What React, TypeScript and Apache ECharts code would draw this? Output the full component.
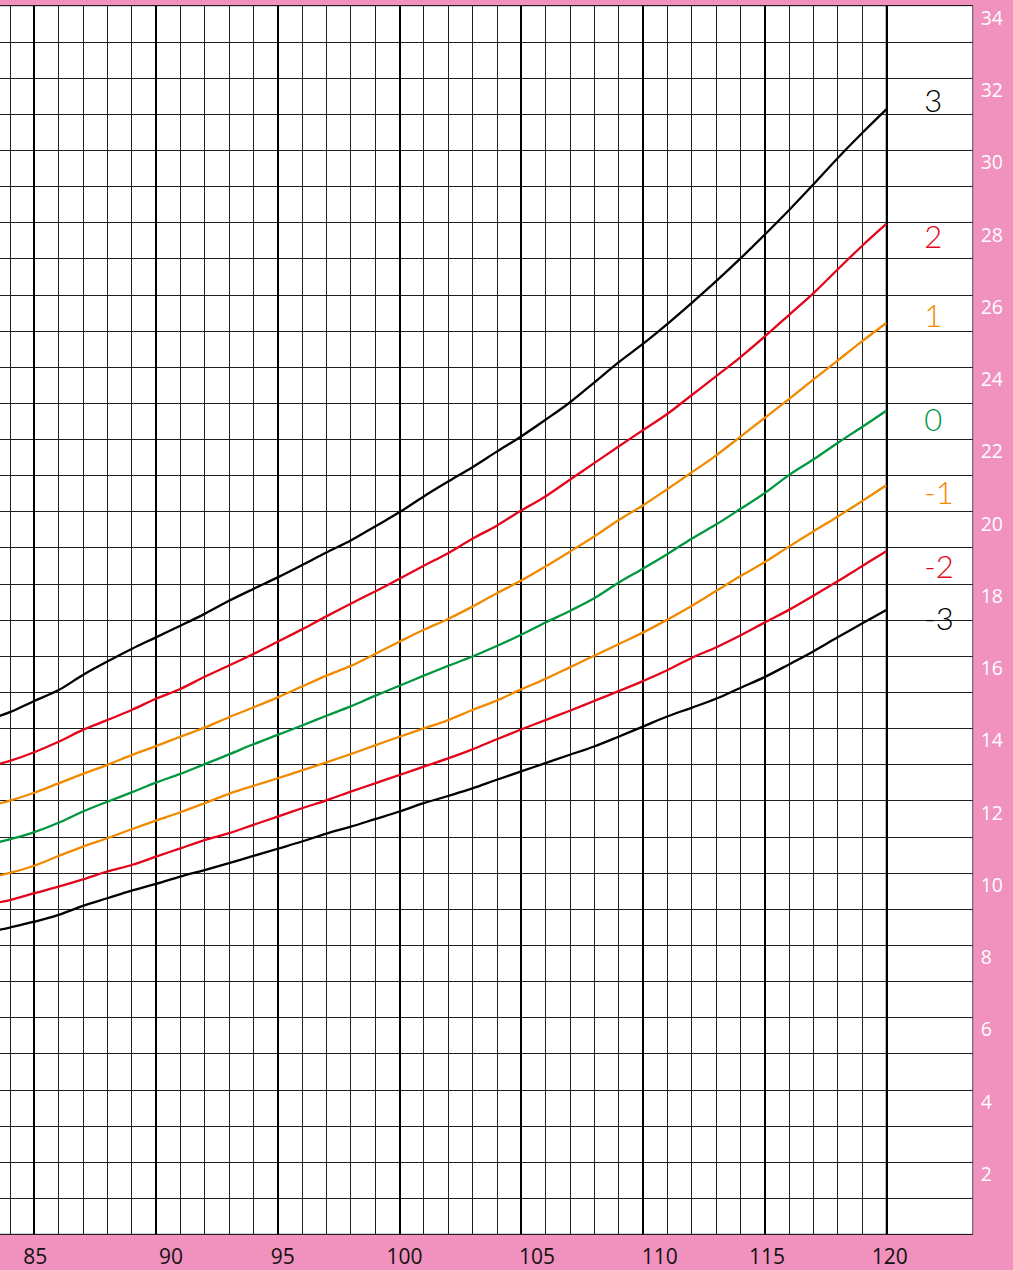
import { useEffect, useRef } from "react";
import * as echarts from "echarts";

// Height (cm)
const heights = [
  83.5, 84, 85, 86, 87, 88, 89, 90, 91, 92, 93, 94, 95, 96, 97, 98, 99, 100, 101,
  102, 103, 104, 105, 106, 107, 108, 109, 110, 111, 112, 113, 114, 115, 116, 117,
  118, 119, 120,
];

// Weight (kg) per z-score curve
const sdPlus3 = [
  14.33, 14.45, 14.76, 15.06, 15.48, 15.85, 16.2, 16.52, 16.84, 17.17, 17.53, 17.86,
  18.18, 18.52, 18.87, 19.2, 19.59, 19.98, 20.42, 20.83, 21.23, 21.66, 22.08, 22.54,
  23.02, 23.57, 24.13, 24.64, 25.19, 25.77, 26.37, 27.0, 27.66, 28.34, 29.05, 29.78,
  30.47, 31.13,
];
const sdPlus2 = [
  13.01, 13.1, 13.34, 13.63, 13.96, 14.23, 14.51, 14.82, 15.09, 15.43, 15.74, 16.06,
  16.4, 16.74, 17.1, 17.45, 17.79, 18.14, 18.5, 18.85, 19.25, 19.61, 20.03, 20.42,
  20.88, 21.34, 21.8, 22.25, 22.7, 23.22, 23.74, 24.27, 24.84, 25.44, 26.04, 26.7,
  27.35, 27.96,
];
const sdPlus1 = [
  11.91, 12.0, 12.22, 12.48, 12.74, 12.99, 13.26, 13.51, 13.77, 14.02, 14.31, 14.58,
  14.86, 15.16, 15.46, 15.73, 16.06, 16.4, 16.73, 17.03, 17.37, 17.74, 18.09, 18.48,
  18.89, 19.31, 19.76, 20.17, 20.62, 21.08, 21.55, 22.07, 22.59, 23.11, 23.65, 24.18,
  24.71, 25.22,
];
const sdMedian = [
  10.85, 10.93, 11.13, 11.39, 11.7, 11.97, 12.23, 12.5, 12.74, 13.01, 13.28, 13.56,
  13.82, 14.08, 14.35, 14.61, 14.9, 15.18, 15.46, 15.73, 15.99, 16.28, 16.59, 16.93,
  17.25, 17.6, 18.03, 18.42, 18.82, 19.25, 19.64, 20.07, 20.51, 21.01, 21.44, 21.9,
  22.34, 22.79,
];
const sdMinus1 = [
  9.92, 10.0, 10.2, 10.47, 10.73, 10.96, 11.21, 11.45, 11.68, 11.93, 12.19, 12.41,
  12.62, 12.84, 13.06, 13.29, 13.53, 13.77, 14.0, 14.23, 14.51, 14.77, 15.08, 15.37,
  15.69, 16.01, 16.33, 16.65, 17.01, 17.39, 17.8, 18.21, 18.6, 19.03, 19.45, 19.86,
  20.29, 20.73,
];
const sdMinus2 = [
  9.18, 9.25, 9.44, 9.62, 9.82, 10.04, 10.22, 10.45, 10.68, 10.91, 11.1, 11.33,
  11.56, 11.79, 12.01, 12.25, 12.48, 12.71, 12.94, 13.17, 13.42, 13.7, 13.97, 14.23,
  14.49, 14.76, 15.03, 15.31, 15.61, 15.95, 16.24, 16.57, 16.93, 17.28, 17.67, 18.07,
  18.49, 18.9,
];
const sdMinus3 = [
  8.42, 8.49, 8.65, 8.84, 9.09, 9.3, 9.51, 9.7, 9.9, 10.08, 10.27, 10.47, 10.67,
  10.87, 11.09, 11.28, 11.49, 11.7, 11.93, 12.13, 12.34, 12.58, 12.81, 13.04, 13.27,
  13.5, 13.77, 14.05, 14.33, 14.57, 14.82, 15.12, 15.42, 15.77, 16.13, 16.52, 16.9,
  17.28,
];

const curveNames = ["3", "2", "1", "0", "-1", "-2", "-3"];
const curveValues = [sdPlus3, sdPlus2, sdPlus1, sdMedian, sdMinus1, sdMinus2, sdMinus3];

// Tick labels
const xTickLabels = [85, 90, 95, 100, 105, 110, 115, 120];
const yTickLabels = [2, 4, 6, 8, 10, 12, 14, 16, 18, 20, 22, 24, 26, 28, 30, 32, 34];

// ---- styles (not data) ----
const PINK = "#F191BD";
const curveColors: Record<string, string> = {
  "3": "#000000",
  "2": "#E3051B",
  "1": "#F18A00",
  "0": "#00973E",
  "-1": "#F18A00",
  "-2": "#E3051B",
  "-3": "#000000",
};
// vertical nudge (px) of each end label relative to the curve end
const labelNudge: Record<string, number> = {
  "3": -9,
  "2": 12,
  "1": -8,
  "0": 8,
  "-1": 7,
  "-2": 15,
  "-3": 8,
};
// horizontal nudge (px) of each x tick label
const xLabelNudge: Record<number, number> = {
  85: 1,
  90: 15,
  95: 5,
  100: 5,
  105: 16,
  110: 17,
  115: 2.5,
  120: 3.5,
};
const Y_LABEL_DROP = 11.5;

const W = 1013;
const H = 1270;
const TOP = 5.7;
const BOTTOM = H - 1234.3;
const X120 = 886.3;
const PX_PER_CM = 24.345;
const GRID_LEFT = X120 - 40 * PX_PER_CM; // x = 80 cm (off-page)
const RIGHT_EDGE = 972.7;

const LINE_COLOR = "#1f1f1f";

function padFor(d: number, vertical: boolean) {
  if (vertical) return d >= 0 ? [2 * d, 0, 0, 0] : [0, 0, -2 * d, 0];
  return d >= 0 ? [0, 0, 0, 2 * d] : [0, -2 * d, 0, 0];
}

function buildOption() {
  const xRich: Record<string, any> = {};
  xTickLabels.forEach((v) => {
    xRich["x" + v] = {
      fontFamily: "Open Sans",
      fontSize: 21,
      lineHeight: 22,
      color: "#111",
      padding: padFor(xLabelNudge[v] || 0, false),
    };
  });

  const yRich = {
    y: {
      fontFamily: "Open Sans",
      fontSize: 19.5,
      lineHeight: 22,
      color: "#ffffff",
      padding: padFor(Y_LABEL_DROP, true),
    },
  };

  const series = curveNames.map((name, i) => {
    const dy = labelNudge[name];
    return {
      name,
      type: "line",
      xAxisIndex: 0,
      yAxisIndex: 0,
      data: heights.map((h, j) => [h, curveValues[i][j]]),
      showSymbol: false,
      symbol: "none",
      smooth: 0.35,
      clip: true,
      lineStyle: { color: curveColors[name], width: 2.3 },
      itemStyle: { color: curveColors[name] },
      z: 5,
      endLabel: {
        show: true,
        formatter: `{c|${name}}`,
        distance: 38,
        align: "left",
        verticalAlign: "middle",
        rich: {
          c: {
            color: curveColors[name],
            fontFamily: "Lato, Open Sans, sans-serif",
            fontWeight: 300,
            fontSize: 31,
            lineHeight: 32,
            padding: padFor(dy, true),
          },
        },
      },
      emphasis: { disabled: true },
    };
  });

  return {
    animation: false,
    backgroundColor: PINK,
    grid: [
      {
        left: GRID_LEFT,
        right: W - X120,
        top: TOP,
        bottom: BOTTOM,
        show: true,
        backgroundColor: "#ffffff",
        borderColor: LINE_COLOR,
        borderWidth: 1,
        containLabel: false,
        outerBoundsMode: "none",
      },
      {
        left: X120,
        right: W - RIGHT_EDGE,
        top: TOP,
        bottom: BOTTOM,
        show: true,
        backgroundColor: "#ffffff",
        borderColor: "#555",
        borderWidth: 1,
        containLabel: false,
        outerBoundsMode: "none",
      },
    ],
    xAxis: [
      {
        type: "value",
        gridIndex: 0,
        min: 80,
        max: 120,
        interval: 5,
        axisLine: { show: false },
        axisTick: { show: false },
        minorTick: { show: false, splitNumber: 5 },
        splitLine: { show: true, lineStyle: { color: "#000", width: 2 } },
        minorSplitLine: { show: true, lineStyle: { color: LINE_COLOR, width: 1 } },
        axisLabel: {
          show: true,
          margin: 11,
          formatter: (v: number) =>
            xTickLabels.indexOf(v) >= 0 ? `{x${v}|${v}}` : "",
          rich: xRich,
        },
        z: 3,
      },
      {
        type: "value",
        gridIndex: 1,
        min: 0,
        max: 1,
        show: false,
        splitLine: { show: false },
      },
    ],
    yAxis: [
      {
        type: "value",
        gridIndex: 0,
        min: 0,
        max: 34,
        interval: 1,
        axisLine: { show: false },
        axisTick: { show: false },
        axisLabel: { show: false },
        splitLine: { show: true, lineStyle: { color: LINE_COLOR, width: 1 } },
      },
      {
        type: "value",
        gridIndex: 1,
        position: "right",
        min: 0,
        max: 34,
        interval: 1,
        axisLine: { show: false },
        axisTick: { show: false },
        splitLine: { show: true, lineStyle: { color: LINE_COLOR, width: 1 } },
        axisLabel: {
          show: true,
          margin: 8,
          align: "left",
          formatter: (v: number) => (yTickLabels.indexOf(v) >= 0 ? `{y|${v}}` : ""),
          rich: yRich,
        },
      },
    ],
    series,
  };
}

export default function App() {
  const ref = useRef<HTMLDivElement>(null);
  useEffect(() => {
    document.body.style.margin = "0";
    if (!ref.current) return;
    const chart = echarts.init(ref.current, null, { renderer: "svg" });
    chart.setOption(buildOption() as any);
    return () => {
      chart.dispose();
    };
  }, []);
  return <div ref={ref} style={{ width: W, height: H, background: PINK }} />;
}
